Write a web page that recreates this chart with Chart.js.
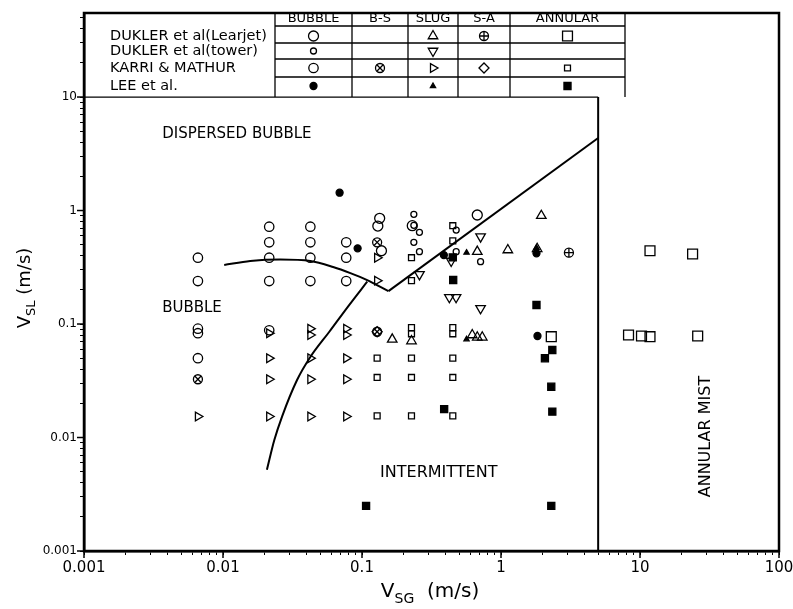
<!DOCTYPE html>
<html>
<head>
<meta charset="utf-8">
<script src="https://cdn.jsdelivr.net/npm/chart.js@4.4.1/dist/chart.umd.min.js"></script>
<style>
  html, body { margin: 0; padding: 0; background: #fff; }
  canvas { display: block; }
</style>
</head>
<body>
<canvas id="flowMap" width="793" height="609"></canvas>
<script>
// axis ranges and labelled decades
const X_MIN = 0.001, X_MAX = 100;
const Y_MIN = 0.001, Y_MAX = 55;
const xTickValues = [0.001, 0.01, 0.1, 1, 10, 100];
const xTickLabels = ['0.001', '0.01', '0.1', '1', '10', '100'];
const yTickValues = [0.001, 0.01, 0.1, 1, 10];
const yTickLabels = ['0.001', '0.01', '0.1', '1', '10'];

// legend table
const sources = ['DUKLER et al(Learjet)', 'DUKLER et al(tower)', 'KARRI & MATHUR', 'LEE et al.'];
const regimes = ['BUBBLE', 'B-S', 'SLUG', 'S-A', 'ANNULAR'];

// DUKLER et al (Learjet)
const learjetBubble = [[0.134, 0.854], [0.13, 0.73], [0.138, 0.442], [0.23, 0.735], [0.675, 0.913]];
const learjetSlug = [[0.165, 0.0733], [0.227, 0.0708], [0.621, 0.080], [0.675, 0.0764], [0.733, 0.0764],
  [0.675, 0.434], [1.12, 0.449], [1.95, 0.90], [1.82, 0.46]];
const learjetSA = [[3.08, 0.425]];
const learjetAnnular = [[2.30, 0.0773], [8.27, 0.080], [10.25, 0.0784], [11.8, 0.0773], [26.0, 0.0784],
  [11.8, 0.442], [23.9, 0.414]];

// DUKLER et al (tower)
const towerBubble = [[0.236, 0.926], [0.259, 0.643], [0.236, 0.525], [0.259, 0.434], [0.236, 0.74],
  [0.476, 0.673], [0.476, 0.434], [0.713, 0.354]];
const towerSlug = [[0.713, 0.588], [0.259, 0.274], [0.438, 0.359], [0.425, 0.172], [0.475, 0.172], [0.713, 0.1375]];

// KARRI & MATHUR
const karriBubble = [[0.0066, 0.384], [0.0066, 0.239], [0.0066, 0.091], [0.0066, 0.083], [0.0066, 0.050],
  [0.0215, 0.72], [0.0215, 0.525], [0.0215, 0.384], [0.0215, 0.239], [0.0215, 0.088],
  [0.0425, 0.72], [0.0425, 0.525], [0.0425, 0.384], [0.0425, 0.239],
  [0.077, 0.525], [0.077, 0.384], [0.077, 0.239]];
const karriBS = [[0.0066, 0.0326], [0.1285, 0.525], [0.1285, 0.0855]];
const karriSlug = [[0.0066, 0.0153],
  [0.0215, 0.083], [0.0215, 0.050], [0.0215, 0.0326], [0.0215, 0.0153],
  [0.0425, 0.091], [0.0425, 0.080], [0.0425, 0.050], [0.0425, 0.0326], [0.0425, 0.0153],
  [0.077, 0.091], [0.077, 0.080], [0.077, 0.050], [0.077, 0.0326], [0.077, 0.0153],
  [0.1285, 0.384], [0.1285, 0.241]];
const karriSA = [[0.1285, 0.0855]];
const karriAnnular = [[0.1285, 0.050], [0.1285, 0.0338], [0.1285, 0.0155],
  [0.227, 0.384], [0.227, 0.241], [0.227, 0.093], [0.227, 0.082], [0.227, 0.050], [0.227, 0.0338], [0.227, 0.0155],
  [0.45, 0.735], [0.45, 0.54], [0.45, 0.093], [0.45, 0.082], [0.45, 0.050], [0.45, 0.0338], [0.45, 0.0155]];

// LEE et al.
const leeBubble = [[0.069, 1.435], [0.093, 0.464], [0.388, 0.405], [1.83, 0.0784], [1.80, 0.42]];
const leeSlug = [[0.565, 0.425], [0.565, 0.0733], [1.80, 0.47]];
const leeAnnular = [[0.45, 0.387], [0.453, 0.244], [1.80, 0.147], [2.34, 0.059], [2.07, 0.0499],
  [2.30, 0.028], [2.34, 0.0169], [0.39, 0.0178], [0.107, 0.0025], [2.3, 0.0025]];

// regime boundaries
const bubbleDispersedCurve = [[0.0102, 0.331], [0.0157, 0.359], [0.0258, 0.370], [0.0425, 0.359],
  [0.062, 0.318], [0.0825, 0.281], [0.109, 0.244], [0.155, 0.195]];
const bubbleSlugCurve = [[0.0207, 0.0052], [0.0234, 0.0095], [0.0266, 0.0153], [0.0341, 0.0321],
  [0.0425, 0.0512], [0.0582, 0.0855], [0.0798, 0.144], [0.109, 0.236]];
const slugAnnularLine = [[0.155, 0.195], [5, 4.35]];
const annularMistLine = [[5, 0.001], [5, 10]];

const hollow = 'rgba(0,0,0,0)';
const series = [
  { src: 0, reg: 0, data: learjetBubble, marks: [{ pointStyle: 'circle', radius: 5 }] },
  { src: 0, reg: 2, data: learjetSlug, marks: [{ pointStyle: 'triangle', radius: 5.5 }] },
  { src: 0, reg: 3, data: learjetSA, marks: [{ pointStyle: 'circle', radius: 4.5 }, { pointStyle: 'cross', radius: 4.5 }] },
  { src: 0, reg: 4, data: learjetAnnular, marks: [{ pointStyle: 'rect', radius: 7 }] },
  { src: 1, reg: 0, data: towerBubble, marks: [{ pointStyle: 'circle', radius: 3 }] },
  { src: 1, reg: 2, data: towerSlug, marks: [{ pointStyle: 'triangle', radius: 5.5, rotation: 180 }] },
  { src: 2, reg: 0, data: karriBubble, marks: [{ pointStyle: 'circle', radius: 4.7 }] },
  { src: 2, reg: 1, data: karriBS, marks: [{ pointStyle: 'circle', radius: 4.5 }, { pointStyle: 'crossRot', radius: 4.5 }] },
  { src: 2, reg: 2, data: karriSlug, marks: [{ pointStyle: 'triangle', radius: 5, rotation: 90 }] },
  { src: 2, reg: 3, data: karriSA, marks: [{ pointStyle: 'rectRot', radius: 5 }] },
  { src: 2, reg: 4, data: karriAnnular, marks: [{ pointStyle: 'rect', radius: 4.2 }] },
  { src: 3, reg: 0, data: leeBubble, marks: [{ pointStyle: 'circle', radius: 3.5, filled: true }] },
  { src: 3, reg: 2, data: leeSlug, marks: [{ pointStyle: 'triangle', radius: 3, filled: true }] },
  { src: 3, reg: 4, data: leeAnnular, marks: [{ pointStyle: 'rect', radius: 5, filled: true }] },
];

const toXY = (pts) => pts.map(([x, y]) => ({ x, y }));

const lineSet = (pts, curved) => ({
  data: toXY(pts),
  showLine: true,
  pointRadius: 0,
  borderColor: '#000',
  borderWidth: 2,
  cubicInterpolationMode: curved ? 'monotone' : 'default',
  tension: 0,
});

const datasets = [
  lineSet(bubbleDispersedCurve, true),
  lineSet(bubbleSlugCurve, true),
  lineSet(slugAnnularLine, false),
  lineSet(annularMistLine, false),
];
series.forEach(s => s.marks.forEach(m => datasets.push({
  data: toXY(s.data),
  showLine: false,
  pointStyle: m.pointStyle,
  pointRadius: m.radius,
  pointRotation: m.rotation || 0,
  pointBorderColor: '#000',
  pointBackgroundColor: m.filled ? '#000' : hollow,
  pointBorderWidth: 1.3,
})));

function logTicks(min, max) {
  const ticks = [];
  for (let e = Math.floor(Math.log10(min)); e <= Math.ceil(Math.log10(max)); e++) {
    for (let m = 1; m < 10; m++) {
      const v = m * Math.pow(10, e);
      if (v >= min * 0.999 && v <= max * 1.001) ticks.push({ value: v, major: m === 1 });
    }
  }
  return ticks;
}

function decadeLabel(v, values, labels) {
  const i = values.findIndex(d => Math.abs(v / d - 1) < 1e-6);
  return i < 0 ? '' : labels[i];
}

// text with a subscript part, centred on x
function subText(ctx, parts, x, y, size) {
  const fonts = parts.map(p => (p[1] ? Math.round(size * 0.7) : size) + 'px "DejaVu Sans"');
  const widths = parts.map((p, i) => { ctx.font = fonts[i]; return ctx.measureText(p[0]).width; });
  let cx = x - widths.reduce((a, b) => a + b, 0) / 2;
  ctx.textAlign = 'left';
  ctx.textBaseline = 'alphabetic';
  parts.forEach((p, i) => {
    ctx.font = fonts[i];
    ctx.fillText(p[0], cx, p[1] ? y + size * 0.3 : y);
    cx += widths[i];
  });
}

function seg(ctx, x1, y1, x2, y2) {
  ctx.beginPath(); ctx.moveTo(x1, y1); ctx.lineTo(x2, y2); ctx.stroke();
}

const overlay = {
  id: 'overlay',
  afterDraw(chart) {
    const { ctx, chartArea: a, scales: { x, y } } = chart;
    ctx.save();
    ctx.strokeStyle = '#000';
    ctx.fillStyle = '#000';

    // plot frame and long decade ticks
    ctx.lineWidth = 2.5;
    ctx.strokeRect(a.left, a.top, a.right - a.left, a.bottom - a.top);
    ctx.lineWidth = 1.5;
    xTickValues.forEach(v => { const px = x.getPixelForValue(v); seg(ctx, px, a.bottom, px, a.bottom + 7); });
    yTickValues.forEach(v => { const py = y.getPixelForValue(v); seg(ctx, a.left - 7, py, a.left, py); });

    // legend table
    const tBottom = y.getPixelForValue(10);
    const cols = [275, 352, 408, 458, 510, 625];
    const rowMid = [36, 51, 68, 86];
    const rowLines = [43, 59, 77];
    const headY = 19;
    ctx.lineWidth = 1.3;
    seg(ctx, a.left, tBottom, x.getPixelForValue(5), tBottom);
    seg(ctx, cols[cols.length - 1], a.top, cols[cols.length - 1], tBottom);
    cols.slice(0, -1).forEach(c => seg(ctx, c, a.top, c, tBottom));
    seg(ctx, cols[0], 26, cols[cols.length - 1], 26);
    rowLines.forEach(r => seg(ctx, cols[0], r, cols[cols.length - 1], r));

    ctx.font = '13px "DejaVu Sans"';
    ctx.textAlign = 'center';
    ctx.textBaseline = 'middle';
    regimes.forEach((r, i) => ctx.fillText(r, (cols[i] + cols[i + 1]) / 2, headY));
    ctx.font = '14.5px "DejaVu Sans"';
    ctx.textAlign = 'left';
    sources.forEach((s, i) => ctx.fillText(s, 110, rowMid[i]));

    series.forEach(s => {
      const cx = (cols[s.reg] + cols[s.reg + 1]) / 2;
      const cy = rowMid[s.src];
      s.marks.forEach(m => {
        ctx.fillStyle = m.filled ? '#000' : hollow;
        ctx.lineWidth = 1.3;
        Chart.helpers.drawPoint(ctx, { pointStyle: m.pointStyle, radius: m.radius, rotation: m.rotation || 0, borderWidth: 1.3 }, cx, cy);
      });
    });
    ctx.fillStyle = '#000';

    // regime names
    ctx.font = '15px "DejaVu Sans"';
    ctx.textAlign = 'left';
    ctx.textBaseline = 'middle';
    ctx.fillText('DISPERSED BUBBLE', x.getPixelForValue(0.00365), y.getPixelForValue(4.72));
    ctx.fillText('BUBBLE', x.getPixelForValue(0.00365), y.getPixelForValue(0.138));
    ctx.font = '16px "DejaVu Sans"';
    ctx.fillText('INTERMITTENT', x.getPixelForValue(0.135), y.getPixelForValue(0.0049));
    ctx.save();
    ctx.translate(x.getPixelForValue(30), y.getPixelForValue(0.0102));
    ctx.rotate(-Math.PI / 2);
    ctx.textAlign = 'center';
    ctx.font = '16px "DejaVu Sans"';
    ctx.fillText('ANNULAR MIST', 0, 0);
    ctx.restore();

    // axis titles
    subText(ctx, [['V', false], ['SG', true], ['  (m/s)', false]], 430, 597, 20);
    ctx.save();
    ctx.translate(30, 288);
    ctx.rotate(-Math.PI / 2);
    subText(ctx, [['V', false], ['SL', true], [' (m/s)', false]], 0, 0, 18);
    ctx.restore();

    ctx.restore();
  }
};

const axisCommon = {
  type: 'logarithmic',
  border: { display: true, color: '#000', width: 2.5 },
  grid: { drawOnChartArea: false, drawTicks: true, tickLength: 4, color: '#000', tickColor: '#000', lineWidth: 1 },
};

new Chart(document.getElementById('flowMap'), {
  type: 'scatter',
  data: { datasets },
  options: {
    responsive: false,
    animation: false,
    events: [],
    layout: { padding: { left: 0, top: 13, right: 14, bottom: 0 } },
    plugins: { legend: { display: false }, tooltip: { enabled: false } },
    scales: {
      x: {
        ...axisCommon,
        min: X_MIN, max: X_MAX,
        afterBuildTicks: s => { s.ticks = logTicks(X_MIN, X_MAX); },
        afterFit: s => { s.height = 58; s.paddingLeft = 0; s.paddingRight = 0; },
        ticks: {
          autoSkip: false, maxRotation: 0, padding: 4, color: '#000',
          font: { family: 'DejaVu Sans', size: 15 },
          callback: v => decadeLabel(v, xTickValues, xTickLabels),
        },
      },
      y: {
        ...axisCommon,
        min: Y_MIN, max: Y_MAX,
        afterBuildTicks: s => { s.ticks = logTicks(Y_MIN, Y_MAX); },
        afterFit: s => { s.width = 84; s.paddingTop = 0; s.paddingBottom = 0; },
        ticks: {
          autoSkip: false, padding: 3, color: '#000',
          font: { family: 'DejaVu Sans', size: 12 },
          callback: v => decadeLabel(v, yTickValues, yTickLabels),
        },
      },
    },
  },
  plugins: [overlay],
});
</script>
</body>
</html>
